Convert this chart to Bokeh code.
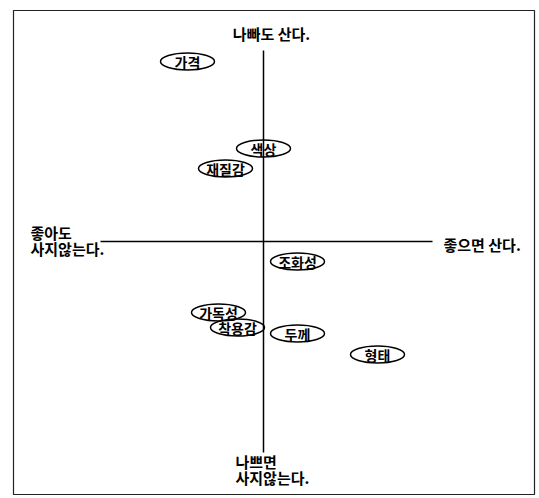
from bokeh.plotting import figure
from bokeh.models import Range1d, ColumnDataSource
from bokeh.core.properties import value
from bokeh.embed import file_html
from bokeh.resources import INLINE

# ---- data (perceptual map scores) ----
attributes = ["가격", "색상", "재질감", "조화성", "가독성", "착용감", "두께", "형태"]
x_scores = [-0.76, 0.00, -0.38, 0.34, -0.45, -0.26, 0.34, 1.14]
y_scores = [1.80, 0.93, 0.73, -0.20, -0.71, -0.86, -0.92, -1.13]

top_label = "나빠도 산다."
left_label = ["좋아도", "사지않는다."]
right_label = "좋으면 산다."
bottom_label = ["나쁘면", "사지않는다."]

FONT = value("Noto Sans CJK KR")

W, H = 536, 496
p = figure(width=W, height=H, output_backend="svg", toolbar_location=None,
           x_range=Range1d(-2.63, -2.63 + W / 100), y_range=Range1d(2.41 - H / 100, 2.41),
           min_border=0)
p.axis.visible = False
p.grid.visible = False
p.outline_line_color = None
p.background_fill_color = "white"

# outer frame
p.quad(left=[-2.50], right=[2.71], top=[2.31], bottom=[-2.53],
       fill_color=None, line_color="#222222", line_width=1.2)

# axes
p.segment(x0=[-1.63, 0.0], y0=[0.0, 1.91], x1=[1.69, 0.0], y1=[0.0, -2.11],
          line_color="black", line_width=1.5)

src = ColumnDataSource(dict(x=x_scores, y=y_scores, label=attributes))
p.ellipse(x="x", y="y", width=0.54, height=0.17, source=src,
          fill_color=None, line_color="black", line_width=1.5)
p.text(x="x", y="y", text="label", source=src, text_font=FONT,
       text_font_style="bold", text_font_size="14px", text_align="center",
       text_baseline="middle", text_color="black")

# pole labels
LBL = dict(text_font=FONT, text_font_style="bold", text_font_size="15px",
           text_baseline="middle", text_color="black")
p.text(x=[0.08], y=[2.08], text=[top_label], text_align="center", **LBL)
p.text(x=[-2.33, -2.33], y=[0.09, -0.07], text=left_label, text_align="left", **LBL)
p.text(x=[1.80], y=[-0.03], text=[right_label], text_align="left", **LBL)
p.text(x=[-0.28, -0.28], y=[-2.20, -2.36], text=bottom_label, text_align="left", **LBL)

open("out.html", "w").write(file_html(p, INLINE))
